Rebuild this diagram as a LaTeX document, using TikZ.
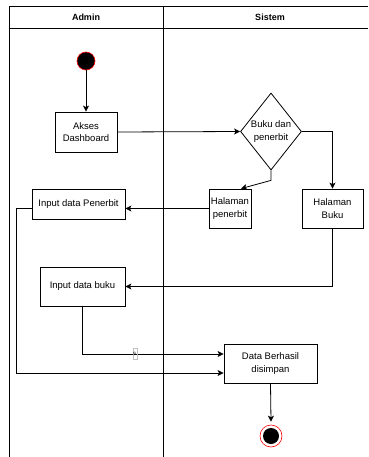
\documentclass[tikz,border=0pt]{standalone}
\usepackage{fontspec}
\setmainfont{Liberation Sans}
\usetikzlibrary{arrows.meta,shapes.geometric}
\newcommand{\txt}{\fontsize{9.5}{12.5}\selectfont}

\begin{document}
\begin{tikzpicture}[x=1pt,y=-1pt,
  act/.style={draw, rectangle, line width=0.8pt, align=center, font=\txt, inner sep=1pt},
  arr/.style={-{Stealth[length=6pt,width=6pt,inset=1.5pt]}, line width=0.8pt},
  lane/.style={line width=0.9pt}]
  \useasboundingbox (0,0) rectangle (368,457);
  \draw[lane] (9.5,457) -- (9.5,6) -- (368,6);
  \draw[lane] (9.5,28) -- (368,28);
  \draw[lane] (163,6) -- (163,457);
  \node[font=\bfseries\fontsize{9}{10}\selectfont] (admin)  at ( 86,17) {Admin};
  \node[font=\bfseries\fontsize{9}{10}\selectfont] (sistem) at (270,17) {Sistem};
  \node[circle, fill=black, draw=red, line width=0.6pt, minimum size=18pt, inner sep=0pt] (start) at (86,61) {};
  \node[act, minimum width=62pt, minimum height=40pt] (akses)  at ( 86,132)   {Akses\\Dashboard};
  \node[diamond, draw, line width=0.8pt, align=center, font=\txt, inner sep=0pt, shape aspect=0.8,
        minimum width=61pt, minimum height=77pt] (dec) at (271,131.5) {Buku dan\\penerbit};
  \node[act, minimum width=42pt, minimum height=39pt] (halp)   at (230,208.5) {Halaman\\penerbit};
  \node[act, minimum width=61pt, minimum height=39pt] (halb)   at (332.5,208.5) {Halaman\\Buku};
  \node[act, minimum width=93pt, minimum height=30pt] (inpen)  at ( 78.5,204) {Input data Penerbit};
  \node[act, minimum width=85pt, minimum height=39pt] (inbuku) at ( 82.5,286.5) {Input data buku};
  \node[act, minimum width=93pt, minimum height=39pt] (data)   at (270.5,363.5) {Data Berhasil\\disimpan};
  \node[circle, fill=white, draw=red, line width=0.6pt, minimum size=22pt, inner sep=0pt] (end) at (271,436) {};
  \fill[black] (end) circle (8pt);
  \draw[arr] (start) -- (akses);
  \draw[arr] (akses.east) -- (dec.west);
  \draw[arr] (dec.south) -- ++(0,10) -- ([xshift=11pt]halp.north);
  \draw[arr] (dec.east) -| (halb.north);
  \draw[arr] (halp.west) -- (inpen.east |- halp.west);
  \draw[arr] (halb.south) |- (inbuku.east);
  \draw[arr] (inbuku.south) |- ([yshift=9.5pt]data.west)
    node[pos=0.685, font=\fontsize{6}{6}\selectfont, draw=gray!50, line width=0.4pt,
         minimum width=4pt, minimum height=11pt, inner sep=0pt] (lbl) {s};
  \draw[arr] ([yshift=-4pt]inpen.west) -- ++(-15,0) |- ([yshift=-9.5pt]data.west);
  \draw[arr] (data.south) -- ([yshift=3pt]end.north);
\end{tikzpicture}
\end{document}
